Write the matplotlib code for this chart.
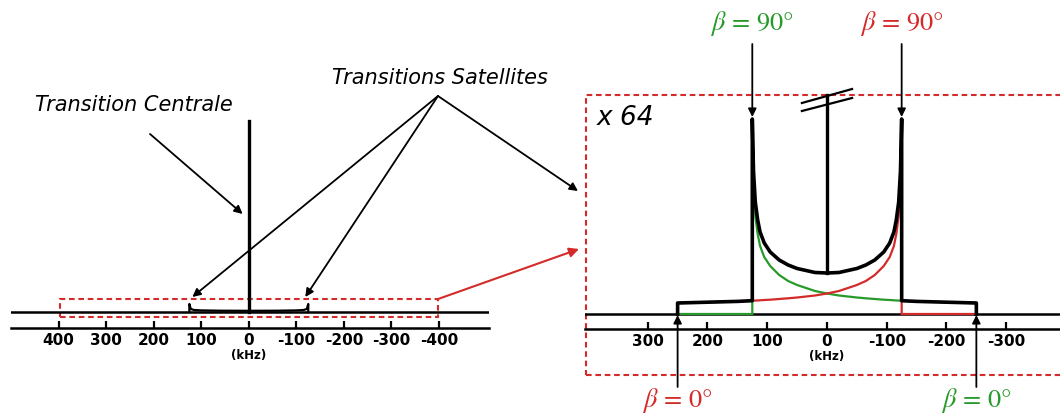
import matplotlib
matplotlib.use("Agg")
import matplotlib.pyplot as plt
from matplotlib.patches import Rectangle

plt.rcParams['font.family'] = ['DejaVu Sans']
plt.rcParams['mathtext.fontset'] = 'stix'

GREEN = '#279a2a'
RED = '#d42a2a'

# left panel: full spectrum (kHz, height)
left_ticks = [400, 300, 200, 100, 0, -100, -200, -300, -400]
left_labels = ['400', '300', '200', '100', '0', '-100', '-200', '-300', '-400']
central_height = 191
sat_khz = [125, 125, 122, 115, 100, 60, 0, -60, -100, -115, -122, -125, -125]
sat_height = [0, 8, 3, 2, 1.6, 1.3, 1.2, 1.3, 1.6, 2, 3, 8, 0]
zoom_box_khz = [398, -398]
zoom_box_height = [-5, 13]

# right panel: satellite transitions x 64
right_ticks = [300, 200, 100, 0, -100, -200, -300]
right_labels = ['300', '200', '100', '0', '-100', '-200', '-300']
green_khz = [250, 125, 125, 123, 120, 116, 112, 105, 95, 80, 65, 50, 35, 20, 0,
             -20, -35, -50, -65, -80, -95, -105, -112, -120, -125, -150, -200, -250, -250]
green_height = [0, 0, 195, 130, 98, 80, 68, 57, 48, 39, 33, 29, 26, 23, 20.5,
                18.5, 17.5, 16.5, 15.7, 15, 14.3, 14, 13.7, 13.4, 13.3, 12.6, 11.8, 11, 0]
red_khz = [-250, -125, -125, -123, -120, -116, -112, -105, -95, -80, -65, -50, -35, -20, 0,
           20, 35, 50, 65, 80, 95, 105, 112, 120, 125, 150, 200, 250, 250]
red_height = [0, 0, 195, 130, 98, 80, 68, 57, 48, 39, 33, 29, 26, 23, 20.5,
              18.5, 17.5, 16.5, 15.7, 15, 14.3, 14, 13.7, 13.4, 13.3, 12.6, 11.8, 11, 0]
black_khz = [250, 250, 200, 150, 125, 125, 123, 120, 116, 112, 105, 95, 80, 65, 50, 35, 20, 0,
             -20, -35, -50, -65, -80, -95, -105, -112, -116, -120, -123, -125, -125, -150, -200, -250, -250]
black_height = [0, 11, 11.8, 12.6, 13.3, 195, 143, 112, 94, 82, 71, 62, 54, 49, 45.5, 43.5, 41.5, 41,
                41.5, 43.5, 45.5, 49, 54, 62, 71, 82, 94, 112, 143, 195, 13.3, 12.6, 11.8, 11, 0]
cut_height = 219
break_khz = [42, -42]
break_upper = [211, 225]
break_lower = [203, 216]


def fx(px):
    return px / 1060


def fy(py):
    return 1 - py / 414


fig = plt.figure(figsize=(10.6, 4.14), dpi=100)
ax_l = fig.add_axes([fx(11), 0, 478 / 1060, 1])
ax_r = fig.add_axes([fx(585), 0, 475 / 1060, 1])

ax_l.set_xlim(500, -505)
ax_l.set_ylim(-101, 313)
ax_r.set_xlim(405, -390)
ax_r.set_ylim(-99, 315)

for ax, ticks, labels, spine_y in [(ax_l, left_ticks, left_labels, -16),
                                   (ax_r, right_ticks, right_labels, -15)]:
    ax.patch.set_visible(False)
    for s in ['top', 'left', 'right']:
        ax.spines[s].set_visible(False)
    ax.spines['bottom'].set_position(('data', spine_y))
    ax.spines['bottom'].set_linewidth(1.8)
    ax.set_yticks([])
    ax.set_xticks(ticks, labels=labels, fontweight='bold', fontsize=11)
    ax.tick_params(axis='x', direction='in', length=5, width=1.6, pad=3)
    ax.axhline(0, color='black', lw=1.8)
    ax.text(0, spine_y - 27, '(kHz)', ha='center', va='center',
            fontsize=8.5, fontweight='bold')

# left spectrum
ax_l.plot(sat_khz, sat_height, color='black', lw=1.6)
ax_l.plot([0, 0], [0, central_height], color='black', lw=2.4)
ax_l.add_patch(Rectangle((zoom_box_khz[0], zoom_box_height[0]),
                         zoom_box_khz[1] - zoom_box_khz[0],
                         zoom_box_height[1] - zoom_box_height[0],
                         fill=False, ec=RED, lw=1.5, ls=(0, (2.7, 1.8)), clip_on=False))

# right spectrum
ax_r.plot(green_khz, green_height, color=GREEN, lw=1.6, solid_joinstyle='miter')
ax_r.plot(red_khz, red_height, color=RED, lw=1.6, solid_joinstyle='miter')
ax_r.plot(black_khz, black_height, color='black', lw=2.6)
ax_r.plot([0, 0], [black_height[17], cut_height], color='black', lw=2.4)
ax_r.plot(break_khz, break_upper, color='black', lw=1.6)
ax_r.plot(break_khz, break_lower, color='black', lw=1.6)
ax_r.add_patch(Rectangle((403, -61), -1000, 280, fill=False, ec=RED, lw=1.5,
                         ls=(0, (2.7, 1.8)), clip_on=False))
ax_r.text(fx(597), fy(118), 'x 64', transform=fig.transFigure, fontsize=19,
          style='italic', ha='left', va='center')

# labels and arrows
arrow = dict(arrowstyle='-|>', color='black', lw=1.3, mutation_scale=12,
             shrinkA=0, shrinkB=0)
fig.text(fx(134), fy(105), 'Transition Centrale', fontsize=15, style='italic',
         ha='center', va='center')
fig.text(fx(440), fy(78), 'Transitions Satellites', fontsize=15, style='italic',
         ha='center', va='center')
ax_l.annotate('', xy=(13, 98), xytext=(fx(150), fy(135)),
              textcoords='figure fraction', arrowprops=arrow, annotation_clip=False)
for k in [sat_khz[0], sat_khz[-1]]:
    ax_l.annotate('', xy=(k * 0.95, sat_height[1] + 7), xytext=(fx(438), fy(97)),
                  textcoords='figure fraction', arrowprops=arrow, annotation_clip=False)
ax_l.annotate('', xy=(fx(578), fy(192)), xycoords='figure fraction',
              xytext=(fx(438), fy(97)), textcoords='figure fraction', arrowprops=arrow)
ax_l.annotate('', xy=(fx(579), fy(250)), xycoords='figure fraction',
              xytext=(zoom_box_khz[1], zoom_box_height[1]), textcoords='data',
              arrowprops=dict(arrowstyle='-|>', color=RED, lw=1.5, mutation_scale=14,
                              shrinkA=0, shrinkB=0), annotation_clip=False)

for k, col in [(125, GREEN), (-125, RED)]:
    ax_r.annotate('', xy=(k, 197), xytext=(k, 270), arrowprops=arrow, annotation_clip=False)
    ax_r.text(k, 292, r'$\beta\,=\,90°$', color=col, fontsize=19, ha='center', va='center')
for k, col in [(250, RED), (-250, GREEN)]:
    ax_r.annotate('', xy=(k, -1), xytext=(k, -73), arrowprops=arrow, annotation_clip=False)
    ax_r.text(k, -86, r'$\beta\,=\,0°$', color=col, fontsize=19, ha='center', va='center')

fig.savefig('out.png', dpi=100)
